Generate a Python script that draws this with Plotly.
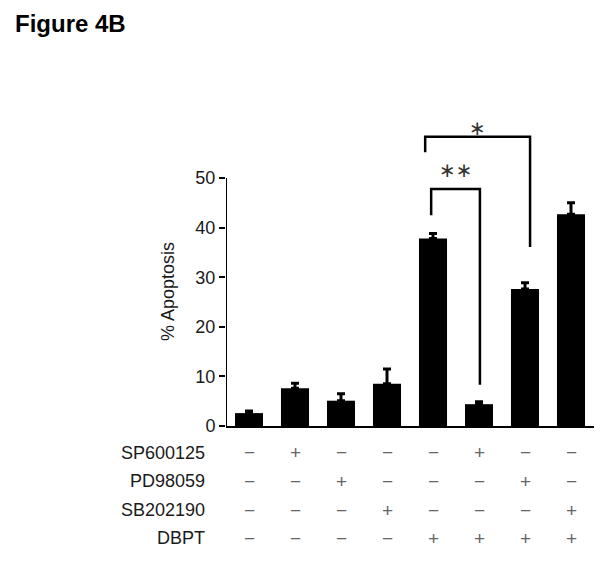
import plotly.graph_objects as go

# ---- data ----
groups = [0, 1, 2, 3, 4, 5, 6, 7]
apoptosis = [2.6, 7.6, 5.1, 8.5, 37.8, 4.4, 27.6, 42.7]
sem = [0.4, 1.0, 1.4, 3.0, 1.0, 0.5, 1.3, 2.3]
row_labels = ["SP600125", "PD98059", "SB202190", "DBPT"]
sp600125 = ["−", "+", "−", "−", "−", "+", "−", "−"]
pd98059 = ["−", "−", "+", "−", "−", "−", "+", "−"]
sb202190 = ["−", "−", "−", "+", "−", "−", "−", "+"]
dbpt = ["−", "−", "−", "−", "+", "+", "+", "+"]
y_ticks = [0, 10, 20, 30, 40, 50]
# significance brackets: (x_left, x_right, y_top, y_left_end, y_right_end, label)
sig_double = (3.96, 5.02, 47.8, 42.5, 8.3, "∗∗")
sig_single = (3.83, 6.11, 58.3, 55.2, 36.1, "∗")

FONT = "Liberation Sans, Arial, sans-serif"
OFF = 8  # page body margin

fig = go.Figure()
fig.add_trace(go.Bar(
    x=groups, y=apoptosis, width=0.61,
    marker=dict(color="black", line=dict(width=0)),
    error_y=dict(type="data", symmetric=False, array=sem,
                 arrayminus=[0] * len(sem), color="black",
                 thickness=3, width=4),
    showlegend=False,
))

shapes = []
shapes.append(dict(type="line", xref="x", yref="y", x0=-0.5, x1=-0.5,
                   y0=0, y1=max(y_ticks), line=dict(color="black", width=2)))
annotations = []
for (xl, xr, yt, yl, yr, lab), ty in ((sig_double, 51.6), (sig_single, 60.0)):
    shapes.append(dict(type="path", xref="x", yref="y",
                       path=f"M {xl},{yl} L {xl},{yt} L {xr},{yt} L {xr},{yr}",
                       line=dict(color="black", width=2.5)))
    annotations.append(dict(x=(xl + xr) / 2, y=ty, xref="x", yref="y",
                            yanchor="middle", text=lab, showarrow=False,
                            font=dict(family="DejaVu Sans", size=20, color="#333")))

rows = [sp600125, pd98059, sb202190, dbpt]
row_px = [453, 481, 510, 538]
for lab, vals, ypx in zip(row_labels, rows, row_px):
    py = (426 - ypx) / 308
    annotations.append(dict(x=-0.5, xref="x", xshift=-19, xanchor="right",
                            y=py, yref="paper", yanchor="middle",
                            text=lab, showarrow=False,
                            font=dict(family=FONT, size=18, color="#1a1a1a")))
    for g, v in zip(groups, vals):
        annotations.append(dict(x=g, xref="x", y=py, yref="paper",
                                yanchor="middle", text=v, showarrow=False,
                                font=dict(family=FONT, size=19, color="#666")))

annotations.append(dict(x=-0.5, xref="x", xshift=-58, y=27, yref="y",
                        text="% Apoptosis", textangle=-90, showarrow=False,
                        font=dict(family=FONT, size=18, color="#1a1a1a")))

fig.update_layout(
    width=607, height=567,
    margin=dict(l=226 - OFF, r=13 + OFF, t=118 - OFF, b=141 + OFF),
    plot_bgcolor="white", paper_bgcolor="white",
    shapes=shapes, annotations=annotations,
    title=dict(text="<b>Figure 4B</b>", x=(15 - OFF) / 607, xanchor="left",
               y=1 - (24 - OFF) / 567, yanchor="middle", xref="container",
               yref="container",
               font=dict(family=FONT, size=24, color="black")),
    xaxis=dict(range=[-0.5, 7.5], showline=True, linecolor="black", linewidth=2,
               showticklabels=False, ticks="", showgrid=False, zeroline=False,
               fixedrange=True),
    yaxis=dict(range=[0, 308 / 4.96], tickvals=y_ticks, ticks="outside",
               ticklen=6, tickwidth=1.5, tickcolor="black", showline=False,
               showgrid=False, zeroline=False,
               tickfont=dict(family=FONT, size=18, color="#1a1a1a"),
               fixedrange=True),
)

fig.write_html("out.html")
